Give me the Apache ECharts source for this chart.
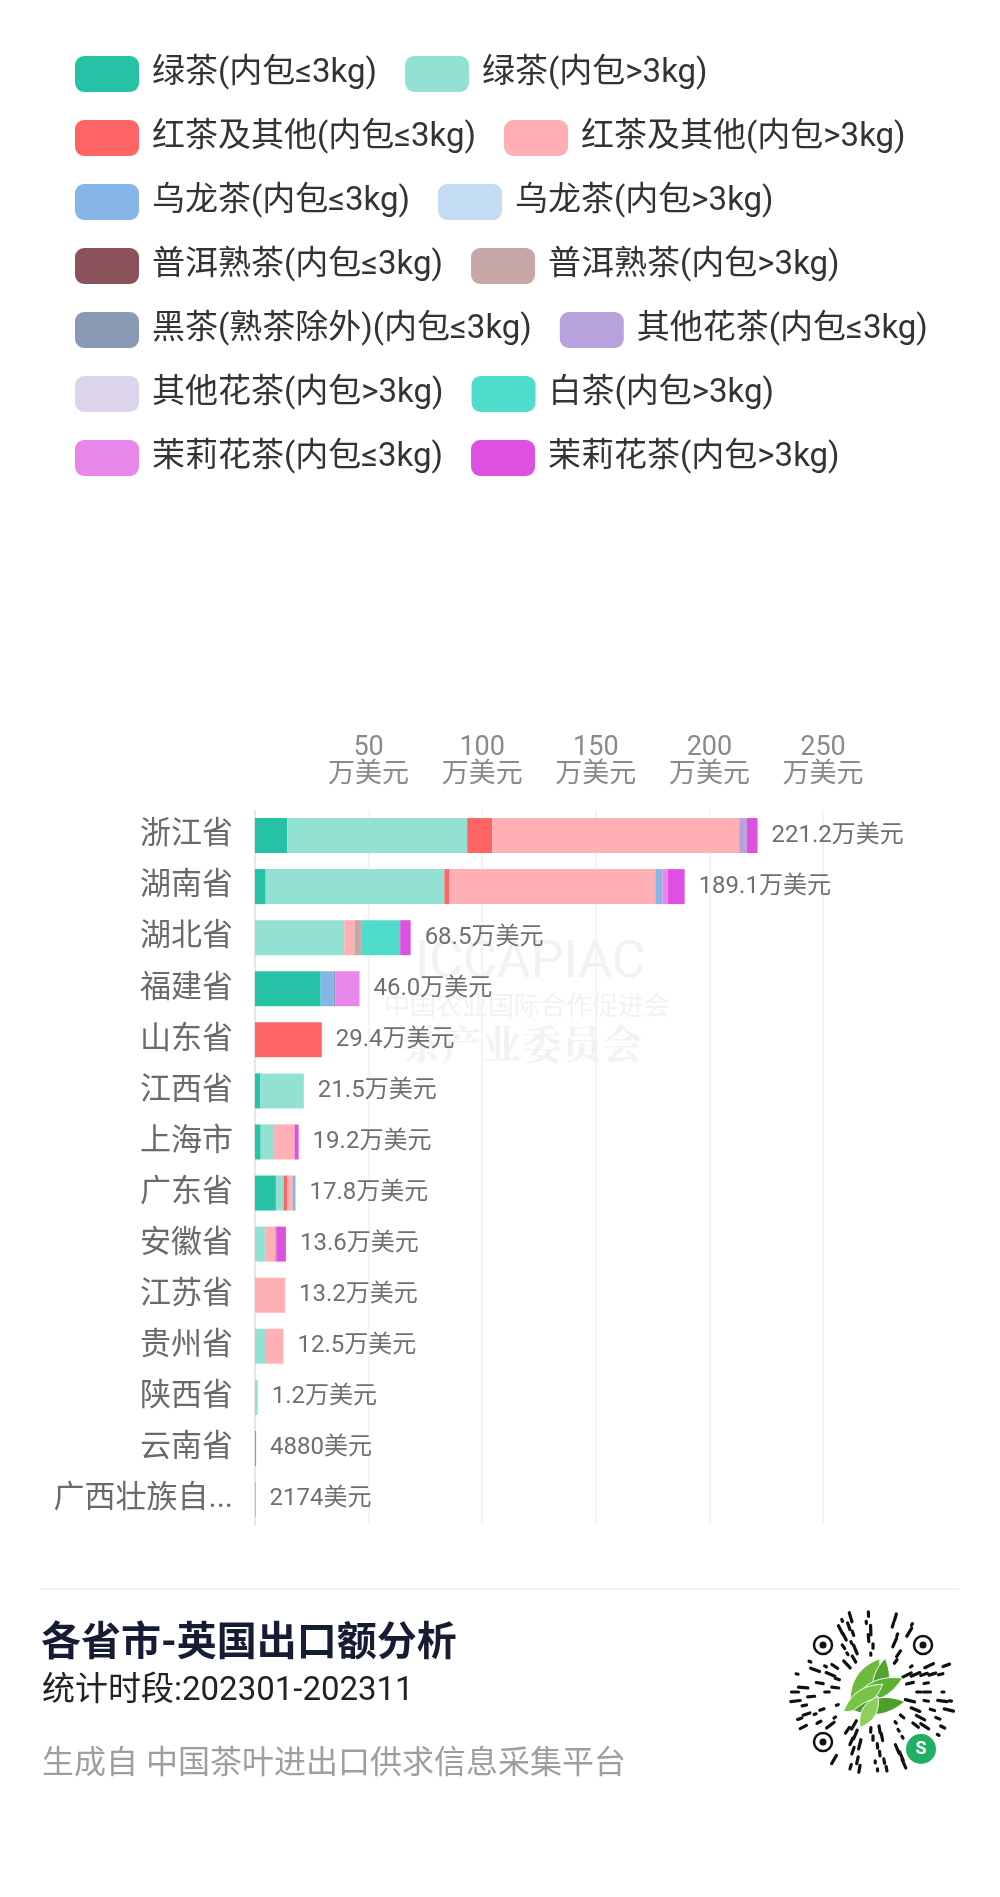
<!DOCTYPE html>
<html>
<head>
<meta charset="utf-8">
<script src="https://cdn.jsdelivr.net/npm/echarts@6/dist/echarts.min.js"></script>
<style>
html,body{margin:0;padding:0;background:#fff;}
#c{width:1000px;height:1897px;}
</style>
</head>
<body>
<div id="c"></div>
<script>
// ---- data (万美元) ----
const provinces = ['浙江省','湖南省','湖北省','福建省','山东省','江西省','上海市','广东省','安徽省','江苏省','贵州省','陕西省','云南省','广西壮族自治区'];
const seriesNames = ['绿茶(内包≤3kg)','绿茶(内包>3kg)','红茶及其他(内包≤3kg)','红茶及其他(内包>3kg)','乌龙茶(内包≤3kg)','乌龙茶(内包>3kg)','普洱熟茶(内包≤3kg)','普洱熟茶(内包>3kg)','黑茶(熟茶除外)(内包≤3kg)','其他花茶(内包≤3kg)','其他花茶(内包>3kg)','白茶(内包>3kg)','茉莉花茶(内包≤3kg)','茉莉花茶(内包>3kg)'];
const greenLow   = [14.2, 4.7, 0, 28.9, 0, 2.3, 2.5, 9.2, 0, 0, 0, 0, 0, 0];
const greenHigh  = [79.2, 78.7, 39.3, 0, 0, 19.2, 5.9, 3.4, 4.6, 0, 4.4, 1.2, 0, 0];
const blackLow   = [11.1, 2.0, 0, 0, 29.4, 0, 0, 1.5, 0, 0, 0, 0, 0, 0];
const blackHigh  = [108.6, 90.8, 4.5, 0, 0, 0, 9.0, 2.5, 4.2, 13.2, 8.1, 0, 0, 0];
const oolongLow  = [0, 3.1, 0, 5.8, 0, 0, 0, 1.2, 0, 0, 0, 0, 0, 0];
const oolongHigh = [0, 0, 0, 0, 0, 0, 0, 0, 0, 0, 0, 0, 0, 0];
const puerLow    = [0, 0, 0, 0, 0, 0, 0, 0, 0, 0, 0, 0, 0, 0];
const puerHigh   = [0, 0, 3.2, 0, 0, 0, 0, 0, 0, 0, 0, 0, 0, 0];
const darkLow    = [0, 0, 0, 0.6, 0, 0, 0, 0, 0, 0, 0, 0, 0.488, 0.2174];
const flowerLow  = [3.4, 0, 0, 0, 0, 0, 0, 0, 0.6, 0, 0, 0, 0, 0];
const flowerHigh = [0, 0, 0, 0, 0, 0, 0, 0, 0, 0, 0, 0, 0, 0];
const whiteHigh  = [0, 0, 16.9, 0, 0, 0, 0, 0, 0, 0, 0, 0, 0, 0];
const jasmineLow = [0, 2.5, 0, 10.7, 0, 0, 0, 0, 0, 0, 0, 0, 0, 0];
const jasmineHigh= [4.7, 7.3, 4.6, 0, 0, 0, 1.8, 0, 4.2, 0, 0, 0, 0, 0];
const axisTicks = [0, 50, 100, 150, 200, 250];

const seriesData = [greenLow, greenHigh, blackLow, blackHigh, oolongLow, oolongHigh, puerLow, puerHigh, darkLow, flowerLow, flowerHigh, whiteHigh, jasmineLow, jasmineHigh];
const colors = ['#25c2a6','#92e1d2','#fe6464','#feb0b4','#86b5e8','#c3dbf3','#8c525b','#c6a6a7','#8b9ab4','#b7a2dd','#dcd4ec','#50dccb','#e886e9','#dd50e0'];

const FONT = 'Roboto,"Noto Sans CJK SC","Noto Sans",sans-serif';
const totals = provinces.map((p, i) => seriesData.reduce((s, arr) => s + arr[i], 0));
function fmtTotal(v) {
  if (v >= 1) return v.toFixed(1) + '万美元';
  return Math.round(v * 10000) + '美元';
}

const series = seriesNames.map((name, k) => ({
  name: name,
  type: 'bar',
  stack: 'total',
  barWidth: 35,
  itemStyle: { color: colors[k] },
  emphasis: { disabled: true },
  data: seriesData[k]
}));
series.push({
  name: '合计',
  type: 'bar',
  stack: 'total',
  barWidth: 35,
  itemStyle: { color: 'rgba(0,0,0,0)' },
  data: provinces.map(() => 0),
  label: {
    show: true,
    position: 'right',
    distance: 14,
    fontFamily: FONT,
    fontSize: 24,
    color: '#6f6f6f',
    formatter: p => fmtTotal(totals[p.dataIndex])
  }
});

// ---- decorative graphics ----
const graphics = [];
function txt(x, y, text, size, fill, extra) {
  return { type: 'text', x: x, y: y, style: Object.assign({ text: text, fontFamily: FONT, fontSize: size, fill: fill, textVerticalAlign: 'middle', verticalAlign: 'middle' }, extra || {}) };
}
// watermark
graphics.push(Object.assign(txt(415, 964, 'ICCAPIAC', 52, '#f2f2f2'), { z: -1 }));
graphics.push(Object.assign(txt(384, 1008, '中国农业国际合作促进会', 26, '#f2f2f2'), { z: -1 }));
graphics.push(Object.assign(txt(402, 1044, '茶产业委员会', 40, '#f2f2f2', { fontWeight: 'bold', fontFamily: '"Noto Serif CJK SC",serif' }), { z: -1 }));
// footer
graphics.push({ type: 'line', shape: { x1: 40, y1: 1589, x2: 959, y2: 1589 }, style: { stroke: '#eeeeee', lineWidth: 1.5 } });
graphics.push(txt(41, 1645, '各省市-英国出口额分析', 40, '#161c33', { fontWeight: 'bold' }));
graphics.push(txt(42, 1692, '统计时段:202301-202311', 33, '#222222'));
graphics.push(txt(42, 1765, '生成自 中国茶叶进出口供求信息采集平台', 32, '#9e9e9e'));

// QR-like mini program code
const qx = 873, qy = 1692;
const qr = [];
const rings = [38, 46, 54, 62, 70, 78];
const avoid = [[823, 1645], [923, 1645], [823, 1742], [921, 1749]];
rings.forEach((r, ri) => {
  const n = Math.round(2 * Math.PI * r / 9);
  for (let k = 0; k < n; k++) {
    if (((k * 7 + ri * 5) % 11) < 5) continue;
    const a = 2 * Math.PI * k / n;
    const len = 2 + ((k * 3 + ri) % 4) * 2.5;
    const x1 = qx + Math.cos(a) * (r - len / 2), y1 = qy + Math.sin(a) * (r - len / 2);
    const x2 = qx + Math.cos(a) * (r + len / 2), y2 = qy + Math.sin(a) * (r + len / 2);
    const mx = (x1 + x2) / 2, my = (y1 + y2) / 2;
    if (avoid.some(p => Math.hypot(mx - p[0], my - p[1]) < 17)) continue;
    qr.push({ type: 'line', shape: { x1, y1, x2, y2 }, style: { stroke: '#111', lineWidth: 3.2, lineCap: 'round' } });
  }
});
avoid.slice(0, 3).forEach(p => {
  qr.push({ type: 'circle', shape: { cx: p[0], cy: p[1], r: 9 }, style: { fill: 'none', stroke: '#111', lineWidth: 2.5 } });
  qr.push({ type: 'circle', shape: { cx: p[0], cy: p[1], r: 3.5 }, style: { fill: '#111' } });
});
function leaf(cx, cy, angDeg, len, wid, fill) {
  const a = angDeg * Math.PI / 180, pts = [];
  for (let i = 0; i <= 16; i++) {
    const t = -1 + i / 8;
    pts.push([t * len, wid * (1 - t * t)]);
  }
  for (let i = 15; i >= 1; i--) {
    const t = -1 + i / 8;
    pts.push([t * len, -wid * (1 - t * t)]);
  }
  return { type: 'polygon', shape: { points: pts.map(p => [cx + p[0] * Math.cos(a) - p[1] * Math.sin(a), cy + p[0] * Math.sin(a) + p[1] * Math.cos(a)]) }, style: { fill: fill, stroke: '#ffffff', lineWidth: 1 } };
}
qr.push(leaf(qx - 8, qy - 12, -55, 26, 9, '#6dbb3c'));
qr.push(leaf(qx + 8, qy - 10, -80, 24, 8, '#4fa52d'));
qr.push(leaf(qx + 4, qy - 2, -25, 28, 9, '#5cb133'));
qr.push(leaf(qx - 10, qy + 6, -35, 24, 8, '#77c447'));
qr.push(leaf(qx + 6, qy + 14, -10, 26, 8, '#4c9f2b'));
qr.push(leaf(qx - 4, qy + 20, -60, 18, 7, '#8ccf5a'));
qr.push({ type: 'circle', shape: { cx: 921, cy: 1749, r: 15 }, style: { fill: '#1fb063' } });
qr.push({ type: 'text', x: 921, y: 1749, style: { text: 'S', fontFamily: FONT, fontSize: 18, fontWeight: 'bold', fill: '#fff', textAlign: 'center', align: 'center', textVerticalAlign: 'middle', verticalAlign: 'middle' } });
graphics.push({ type: 'group', children: qr });

const chart = echarts.init(document.getElementById('c'), null, { renderer: 'canvas' });
chart.setOption({
  backgroundColor: '#ffffff',
  animation: false,
  color: colors,
  textStyle: { fontFamily: FONT },
  legend: {
    data: seriesNames,
    left: 70,
    top: 51,
    width: 910,
    itemWidth: 64,
    itemHeight: 36,
    itemGap: 28,
    icon: 'roundRect',
    selectedMode: false,
    textStyle: { fontFamily: FONT, fontSize: 33, color: '#333333', padding: [0, 0, 0, 8] }
  },
  grid: { left: 255, right: 177, top: 810, height: 715, containLabel: false },
  xAxis: {
    type: 'value',
    position: 'top',
    min: axisTicks[0],
    max: axisTicks[axisTicks.length - 1],
    interval: 50,
    axisLine: { show: false },
    axisTick: { show: false },
    splitLine: { show: true, lineStyle: { color: '#f0f0f0', width: 1.5 } },
    axisLabel: {
      margin: 21,
      fontFamily: FONT,
      fontSize: 27,
      lineHeight: 27,
      color: '#8a8a8a',
      formatter: v => v === 0 ? '' : v + '\n万美元'
    }
  },
  yAxis: {
    type: 'category',
    inverse: true,
    data: provinces,
    axisLine: { show: true, lineStyle: { color: '#e3e3e3', width: 1.5 } },
    axisTick: { show: false },
    axisLabel: {
      margin: 22,
      fontFamily: FONT,
      fontSize: 31,
      color: '#6a6a6a',
      width: 190,
      overflow: 'truncate',
      ellipsis: '...'
    }
  },
  series: series,
  graphic: graphics
});
</script>
</body>
</html>
